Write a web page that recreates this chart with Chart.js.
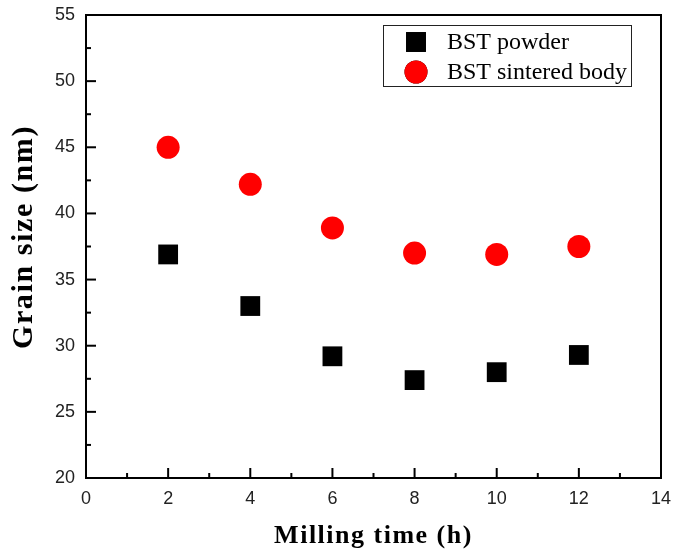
<!DOCTYPE html>
<html>
<head>
<meta charset="utf-8">
<script src="https://cdn.jsdelivr.net/npm/chart.js@4.4.1/dist/chart.umd.min.js"></script>
<style>
  html, body { margin: 0; padding: 0; background: #fff; }
  #wrap { width: 675px; height: 553px; }
</style>
</head>
<body>
<div id="wrap"><canvas id="grainChart" width="675" height="553"></canvas></div>
<script>
// milling time (h)
const millingTime = [2, 4, 6, 8, 10, 12];
// grain size (nm)
const powderSize = [36.9, 33.0, 29.2, 27.4, 28.0, 29.3];
const sinteredSize = [45.0, 42.2, 38.9, 37.0, 36.9, 37.5];
const seriesLabels = ['BST powder', 'BST sintered body'];
const xTicks = [0, 2, 4, 6, 8, 10, 12, 14];
const yTicks = [20, 25, 30, 35, 40, 45, 50, 55];
const xTitle = 'Milling time (h)';
const yTitle = 'Grain size (nm)';

const toPoints = (xs, ys) => xs.map((x, i) => ({ x: x, y: ys[i] }));
const serif = '"Liberation Serif", "Times New Roman", serif';

// frame, inward ticks, axis titles and boxed legend
const framePlugin = {
    id: 'frame',
    afterDraw(chart) {
        const ctx = chart.ctx;
        const a = chart.chartArea;
        const xs = chart.scales.x, ys = chart.scales.y;
        ctx.save();
        ctx.strokeStyle = '#000';
        ctx.lineWidth = 2;
        ctx.strokeRect(a.left, a.top, a.right - a.left, a.bottom - a.top);

        // x ticks (major every 2, minor every 1)
        for (let v = xs.min; v <= xs.max; v += 1) {
            const px = xs.getPixelForValue(v);
            const len = (v % 2 === 0) ? 10 : 5;
            ctx.beginPath();
            ctx.moveTo(px, a.bottom);
            ctx.lineTo(px, a.bottom - len);
            ctx.stroke();
        }
        // y ticks (major every 5, minor every 2.5)
        for (let v = ys.min; v <= ys.max; v += 2.5) {
            const py = ys.getPixelForValue(v);
            const len = (v % 5 === 0) ? 10 : 5;
            ctx.beginPath();
            ctx.moveTo(a.left, py);
            ctx.lineTo(a.left + len, py);
            ctx.stroke();
        }

        // axis titles
        ctx.fillStyle = '#000';
        ctx.textAlign = 'center';
        ctx.textBaseline = 'middle';
        ctx.font = 'bold 26px ' + serif;
        ctx.letterSpacing = '1.5px';
        ctx.fillText(xTitle, (a.left + a.right) / 2, 536);
        ctx.save();
        ctx.translate(24, 237);
        ctx.rotate(-Math.PI / 2);
        ctx.font = 'bold 30px ' + serif;
        ctx.letterSpacing = '1.6px';
        ctx.fillText(yTitle, 0, 0);
        ctx.restore();
        ctx.letterSpacing = '0px';

        // legend
        const box = { x: 383, y: 25, w: 248, h: 61 };
        ctx.lineWidth = 1;
        ctx.strokeStyle = '#222';
        ctx.strokeRect(box.x + 0.5, box.y + 0.5, box.w, box.h);
        ctx.font = '24px ' + serif;
        ctx.textAlign = 'left';
        ctx.textBaseline = 'middle';
        chart.data.datasets.forEach((ds, i) => {
            const cy = box.y + 17 + i * 30;
            Chart.helpers.drawPoint(ctx, {
                pointStyle: ds.pointStyle,
                radius: ds.pointRadius,
                borderWidth: 0
            }, 416, cy);
            ctx.fillStyle = ds.backgroundColor;
            ctx.fill();
            ctx.fillStyle = '#000';
            ctx.fillText(ds.label, 447, cy + 1);
        });
        ctx.restore();
    }
};

const ctx = document.getElementById('grainChart').getContext('2d');
new Chart(ctx, {
    type: 'scatter',
    data: {
        datasets: [{
            label: seriesLabels[0],
            data: toPoints(millingTime, powderSize),
            pointStyle: 'rect',
            pointRadius: 14,
            pointHoverRadius: 14,
            backgroundColor: '#000',
            borderColor: '#000',
            borderWidth: 0
        }, {
            label: seriesLabels[1],
            data: toPoints(millingTime, sinteredSize),
            pointStyle: 'circle',
            pointRadius: 11.5,
            pointHoverRadius: 11.5,
            backgroundColor: '#ff0000',
            borderColor: '#ff0000',
            borderWidth: 0
        }]
    },
    options: {
        responsive: false,
        animation: false,
        layout: { padding: { top: 15, right: 13, left: 0, bottom: 0 } },
        plugins: {
            legend: { display: false },
            tooltip: { enabled: false }
        },
        scales: {
            x: {
                type: 'linear',
                min: 0,
                max: 14,
                afterFit(scale) {
                    scale.height = 75;
                    scale.paddingLeft = 0;
                    scale.paddingRight = 0;
                },
                afterBuildTicks(scale) { scale.ticks = xTicks.map(v => ({ value: v })); },
                grid: { display: false, drawTicks: false },
                border: { display: false },
                ticks: {
                    padding: 10,
                    color: '#222',
                    font: { family: '"Liberation Sans", Arial, sans-serif', size: 18 }
                }
            },
            y: {
                type: 'linear',
                min: 20,
                max: 55,
                afterFit(scale) {
                    scale.width = 86;
                    scale.paddingTop = 0;
                    scale.paddingBottom = 0;
                },
                afterBuildTicks(scale) { scale.ticks = yTicks.map(v => ({ value: v })); },
                grid: { display: false, drawTicks: false },
                border: { display: false },
                ticks: {
                    padding: 11,
                    color: '#222',
                    font: { family: '"Liberation Sans", Arial, sans-serif', size: 18 }
                }
            }
        }
    },
    plugins: [framePlugin]
});
</script>
</body>
</html>
